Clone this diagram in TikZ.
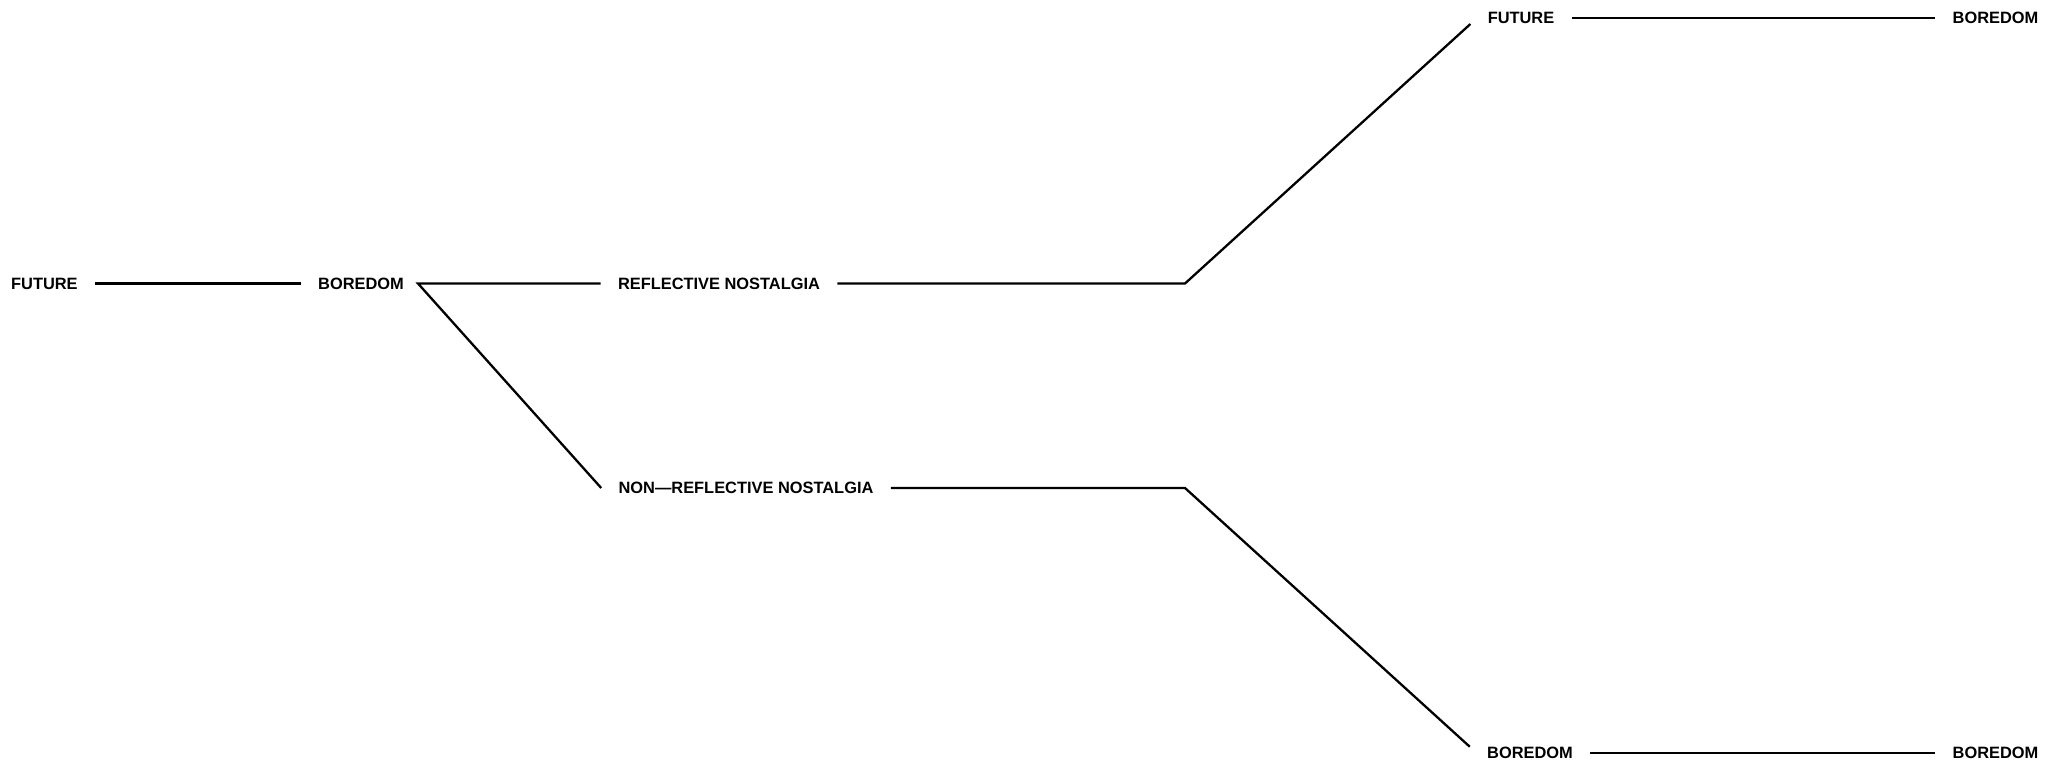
\documentclass[tikz,border=0pt]{standalone}
\usepackage{fontspec}
\setmainfont{Liberation Sans}
\begin{document}
\begin{tikzpicture}[x=0.5pt,y=-0.5pt,
  lbl/.style={font=\fontsize{8.2pt}{9pt}\selectfont\bfseries, inner xsep=8.5pt, inner ysep=0pt, text height=5.85pt, text depth=0pt},
  conn/.style={line width=1.15pt, line join=miter}]
\useasboundingbox (0,0) rectangle (2071,770);
% labels
\node[lbl] (f1) at (44.4,283.5) {FUTURE};
\node[lbl] (b1) at (361,283.5) {BOREDOM};
\node[lbl] (rn) at (719,283.5) {REFLECTIVE NOSTALGIA};
\node[lbl] (nn) at (746,488) {NON—REFLECTIVE NOSTALGIA};
\node[lbl] (f2) at (1521,17.8) {FUTURE};
\node[lbl] (b2) at (1995.5,17.8) {BOREDOM};
\node[lbl] (b3) at (1530,753) {BOREDOM};
\node[lbl] (b4) at (1995.5,753) {BOREDOM};
% junctions
\coordinate (j1) at (418,283.5);
\coordinate (j2) at (1185,283.5);
\coordinate (j3) at (1185,488);
% connectors
\draw[conn] (f1.east) -- (b1.west);
\draw[conn] (rn.west) -- (j1) -- (nn.west);
\draw[conn] (rn.east) -- (j2) -- (f2.south west);
\draw[conn] (f2.east) -- (b2.west);
\draw[conn] (nn.east) -- (j3) -- (b3.north west);
\draw[conn] (b3.east) -- (b4.west);
\end{tikzpicture}
\end{document}
